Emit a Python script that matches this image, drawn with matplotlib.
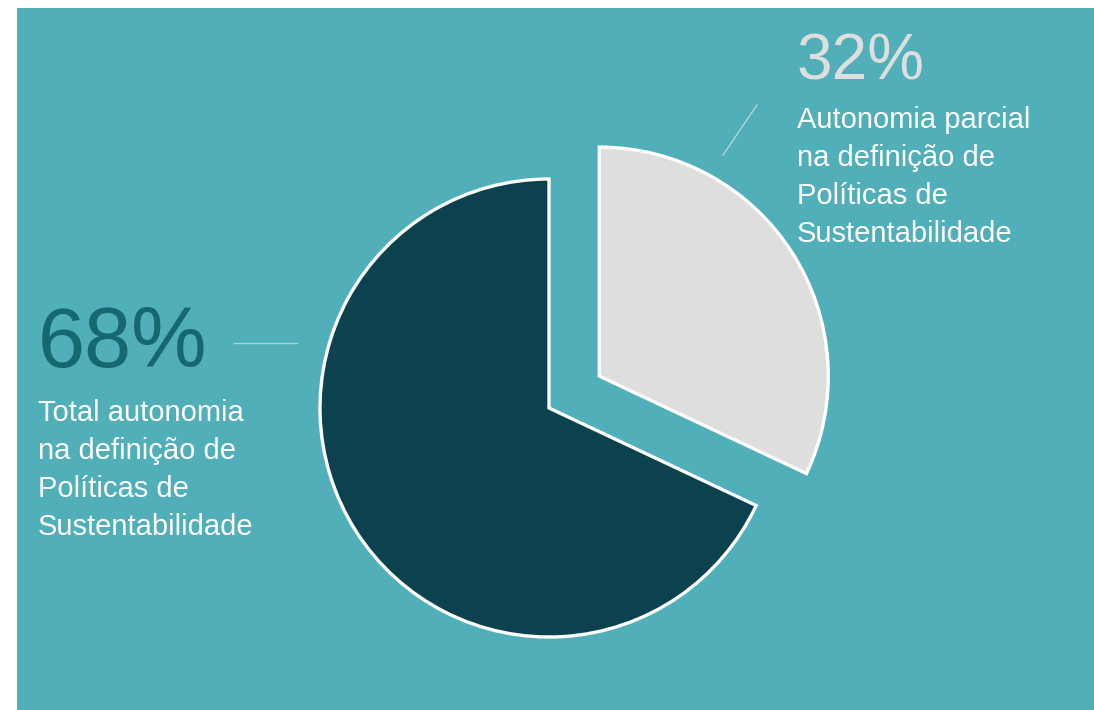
import matplotlib
matplotlib.use("Agg")
import matplotlib.pyplot as plt
from matplotlib.patches import Rectangle

# Data
categories = ["Total autonomia\nna definição de\nPolíticas de\nSustentabilidade",
              "Autonomia parcial\nna definição de\nPolíticas de\nSustentabilidade"]
values = [68, 32]
pct_labels = ["68%", "32%"]
slice_colors = ["#0B424E", "#DEDEDE"]
explode_frac = [0, 0.26]

W, H = 1094, 710
fig = plt.figure(figsize=(W / 100, H / 100), dpi=100, facecolor="white")
ax = fig.add_axes([0, 0, 1, 1])
ax.set_facecolor("none")

cx, cy, r = 549, H - 408, 229
wedges, _ = ax.pie(values, colors=slice_colors,
                   explode=[e * r for e in explode_frac], startangle=90,
                   counterclock=True, center=(cx, cy), radius=r,
                   wedgeprops=dict(edgecolor="white", linewidth=2.4))
for w in wedges:
    w.set_zorder(2)
ax.add_patch(Rectangle((17, 0), W - 17, H - 8, facecolor="#50AFB8",
                       edgecolor="none", zorder=0))
ax.set_xlim(0, W)
ax.set_ylim(0, H)
ax.set_aspect("equal", adjustable="box")
ax.axis("off")

font = "Liberation Sans"
# leader lines
ax.plot([723, 757], [H - 155, H - 105], color="#B5D3DD", lw=1.0, zorder=3)
ax.plot([234, 297], [H - 343, H - 343], color="#A9D2D6", lw=1.0, zorder=3)

# percentages
ax.text(38, H - 367, pct_labels[0], fontsize=61, color="#156770",
        family=font, ha="left", va="baseline", zorder=4)
ax.text(797, H - 80, pct_labels[1], fontsize=46, color="#DEDEDE",
        family=font, ha="left", va="baseline", zorder=4)

# labels
ax.text(38, H - 399, categories[0], fontsize=21, color="white",
        family=font, ha="left", va="top", linespacing=1.45, zorder=4)
ax.text(797, H - 106, categories[1], fontsize=21, color="white",
        family=font, ha="left", va="top", linespacing=1.45, zorder=4)

fig.savefig("out.png", dpi=100, facecolor="white")
